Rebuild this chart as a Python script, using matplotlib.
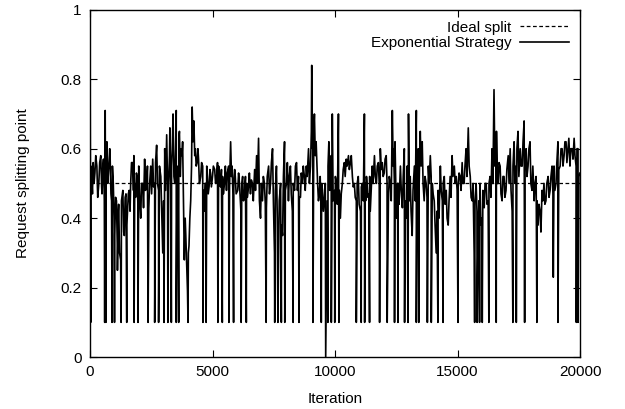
import matplotlib
matplotlib.use("Agg")
import matplotlib.pyplot as plt
import numpy as np

plt.rcParams['font.family'] = ['Liberation Sans', 'DejaVu Sans']

# Trace (iteration, splitting point)
base_iter = [0, 65, 130, 200, 280, 360, 440, 490, 550, 620, 690, 770, 820, 880, 950, 1010,
             1080, 1120, 1170, 1250, 1340, 1400, 1470, 1530, 1600, 1660, 1740, 1790, 1860,
             1920, 1990, 2070, 2150, 2230, 2310, 2400, 2480, 2560, 2640, 2720, 2800, 2890,
             2970, 3050, 3130, 3210, 3260, 3330, 3390, 3460, 3520, 3590, 3650, 3720, 3780,
             3850, 3910, 3980, 4040, 4110, 4170, 4240, 4300, 4370, 4430, 4520, 4600, 4660,
             4730, 4790, 4860, 4920, 5000, 5090, 5170, 5250, 5330, 5410, 5490, 5570, 5660,
             5740, 5800, 5870, 5930, 6030, 6100, 6160, 6230, 6310, 6390, 6470, 6550, 6630,
             6720, 6800, 6880, 6960, 7040, 7120, 7200, 7290, 7370, 7450, 7530, 7610, 7690,
             7780, 7860, 7940, 8020, 8100, 8180, 8260, 8350, 8430, 8510, 8590, 8670, 8750,
             8830, 8920, 9000, 9050, 9100, 9160, 9230, 9290, 9360, 9420, 9490, 9570, 9680,
             9750, 9810, 9890, 9980, 10060, 10140, 10220, 10300, 10380, 10460, 10550, 10630,
             10710, 10790, 10870, 10950, 11040, 11120, 11200, 11250, 11310, 11380, 11440,
             11520, 11610, 11690, 11770, 11850, 11930, 12010, 12090, 12180, 12260, 12340,
             12390, 12450, 12520, 12580, 12670, 12750, 12830, 12910, 13000, 13070, 13150,
             13240, 13320, 13400, 13480, 13560, 13640, 13720, 13810, 13890, 13970, 14050,
             14130, 14210, 14300, 14380, 14460, 14540, 14620, 14700, 14780, 14870, 14950,
             15030, 15110, 15190, 15270, 15350, 15440, 15520, 15600, 15680, 15760, 15840,
             15920, 16000, 16090, 16170, 16250, 16330, 16410, 16490, 16540, 16590, 16660,
             16740, 16820, 16900, 16980, 17070, 17150, 17230, 17310, 17390, 17470, 17560,
             17640, 17720, 17800, 17880, 17960, 18040, 18130, 18210, 18290, 18370, 18450,
             18530, 18610, 18700, 18780, 18860, 18910, 18940, 19020, 19100, 19190, 19270,
             19350, 19430, 19510, 19590, 19680, 19760, 19840, 19920, 20000]
base_val = [0.93, 0.52, 0.56, 0.53, 0.55, 0.50, 0.58, 0.47, 0.57, 0.71, 0.62, 0.55, 0.58, 0.45,
            0.50, 0.35, 0.45, 0.25, 0.44, 0.28, 0.48, 0.35, 0.47, 0.42, 0.48, 0.50, 0.56, 0.58,
            0.46, 0.52, 0.55, 0.40, 0.50, 0.57, 0.50, 0.43, 0.55, 0.57, 0.50, 0.61, 0.48, 0.52,
            0.30, 0.60, 0.64, 0.50, 0.66, 0.55, 0.70, 0.50, 0.71, 0.55, 0.65, 0.60, 0.62, 0.28,
            0.35, 0.19, 0.32, 0.45, 0.72, 0.68, 0.60, 0.56, 0.57, 0.52, 0.55, 0.42, 0.50, 0.52,
            0.49, 0.53, 0.52, 0.54, 0.52, 0.55, 0.49, 0.52, 0.50, 0.48, 0.55, 0.62, 0.55, 0.50,
            0.52, 0.48, 0.50, 0.42, 0.52, 0.47, 0.50, 0.49, 0.47, 0.50, 0.54, 0.58, 0.63, 0.40,
            0.45, 0.50, 0.43, 0.55, 0.50, 0.60, 0.30, 0.55, 0.25, 0.50, 0.35, 0.62, 0.50, 0.45,
            0.55, 0.42, 0.48, 0.56, 0.52, 0.46, 0.50, 0.52, 0.55, 0.60, 0.55, 0.84, 0.60, 0.70,
            0.62, 0.50, 0.47, 0.45, 0.48, 0.46, 0.45, 0.62, 0.50, 0.70, 0.48, 0.50, 0.70, 0.40,
            0.50, 0.56, 0.57, 0.58, 0.56, 0.52, 0.50, 0.45, 0.52, 0.42, 0.50, 0.70, 0.45, 0.50,
            0.47, 0.42, 0.55, 0.58, 0.50, 0.56, 0.60, 0.56, 0.53, 0.58, 0.45, 0.50, 0.71, 0.60,
            0.62, 0.40, 0.50, 0.55, 0.43, 0.60, 0.40, 0.70, 0.52, 0.35, 0.55, 0.71, 0.60, 0.65,
            0.62, 0.45, 0.50, 0.55, 0.58, 0.50, 0.45, 0.30, 0.48, 0.55, 0.45, 0.52, 0.48, 0.38,
            0.52, 0.58, 0.55, 0.52, 0.49, 0.52, 0.56, 0.50, 0.60, 0.66, 0.52, 0.45, 0.30, 0.50,
            0.35, 0.50, 0.40, 0.43, 0.50, 0.45, 0.52, 0.60, 0.77, 0.55, 0.65, 0.50, 0.55, 0.45,
            0.52, 0.48, 0.58, 0.60, 0.42, 0.62, 0.55, 0.65, 0.60, 0.55, 0.68, 0.60, 0.55, 0.62,
            0.48, 0.45, 0.52, 0.38, 0.42, 0.48, 0.50, 0.45, 0.52, 0.48, 0.55, 0.23, 0.55, 0.50,
            0.62, 0.55, 0.60, 0.58, 0.62, 0.60, 0.55, 0.60, 0.63, 0.55, 0.60, 0.53]

# Opposite-side values of the jitter band, read just after each base point
jitter_val = [0.55, 0.47, 0.50, 0.58, 0.46, 0.56, 0.49, 0.55, 0.45, 0.52, 0.50, 0.60, 0.47, 0.55,
              0.40, 0.46, 0.32, 0.42, 0.30, 0.45, 0.36, 0.46, 0.38, 0.47, 0.42, 0.56, 0.48, 0.50,
              0.53, 0.44, 0.46, 0.50, 0.43, 0.48, 0.55, 0.50, 0.47, 0.49, 0.56, 0.50, 0.55, 0.42,
              0.45, 0.48, 0.50, 0.58, 0.48, 0.62, 0.52, 0.60, 0.52, 0.63, 0.52, 0.58, 0.45, 0.40,
              0.27, 0.30, 0.40, 0.55, 0.62, 0.58, 0.55, 0.60, 0.50, 0.56, 0.48, 0.50, 0.55, 0.47,
              0.54, 0.49, 0.55, 0.50, 0.56, 0.50, 0.54, 0.47, 0.55, 0.53, 0.49, 0.52, 0.47, 0.54,
              0.47, 0.53, 0.45, 0.50, 0.45, 0.52, 0.46, 0.53, 0.51, 0.45, 0.48, 0.50, 0.45, 0.50,
              0.52, 0.44, 0.52, 0.47, 0.56, 0.45, 0.48, 0.40, 0.45, 0.38, 0.52, 0.48, 0.56, 0.52,
              0.47, 0.50, 0.55, 0.48, 0.46, 0.53, 0.55, 0.48, 0.52, 0.50, 0.65, 0.60, 0.66, 0.58,
              0.55, 0.45, 0.52, 0.50, 0.42, 0.50, 0.55, 0.48, 0.58, 0.45, 0.52, 0.44, 0.48, 0.47,
              0.54, 0.52, 0.55, 0.54, 0.58, 0.49, 0.46, 0.50, 0.44, 0.49, 0.45, 0.50, 0.52, 0.46,
              0.52, 0.48, 0.50, 0.52, 0.55, 0.50, 0.54, 0.52, 0.57, 0.50, 0.52, 0.45, 0.55, 0.50,
              0.48, 0.50, 0.44, 0.48, 0.52, 0.45, 0.55, 0.45, 0.42, 0.48, 0.45, 0.55, 0.50, 0.55,
              0.50, 0.52, 0.46, 0.50, 0.52, 0.47, 0.38, 0.42, 0.40, 0.48, 0.50, 0.44, 0.40, 0.45,
              0.46, 0.52, 0.50, 0.48, 0.53, 0.48, 0.50, 0.55, 0.52, 0.55, 0.46, 0.50, 0.45, 0.42,
              0.45, 0.38, 0.48, 0.50, 0.44, 0.50, 0.46, 0.50, 0.55, 0.62, 0.50, 0.56, 0.47, 0.52,
              0.46, 0.54, 0.50, 0.48, 0.55, 0.50, 0.60, 0.52, 0.55, 0.62, 0.56, 0.52, 0.60, 0.50,
              0.55, 0.50, 0.45, 0.44, 0.36, 0.45, 0.44, 0.50, 0.46, 0.52, 0.47, 0.50, 0.48, 0.56,
              0.54, 0.60, 0.55, 0.62, 0.56, 0.63, 0.60, 0.57, 0.58, 0.60, 0.52, 0.50]
jitter_shift = 35  # iterations after the base point

# Short drops of the splitting point (iteration, value)
dip_iter = [30, 600, 650, 900, 1000, 1270, 1500, 1800, 1960, 2370, 2640, 2800, 3020, 3180,
            3320, 3520, 3620, 4000, 4610, 4740, 5220, 5400, 5670, 5860, 6170, 6380, 7190,
            7540, 7670, 7810, 7950, 8290, 8530, 9100, 9440, 9620, 9710, 9850, 9990, 10160,
            10870, 11070, 11210, 11410, 11820, 12130, 12430, 12570, 12840, 12980, 13320,
            13420, 13770, 13930, 14200, 14410, 15020, 15700, 15800, 15900, 16010, 16280,
            16580, 17260, 17400, 17740, 18240, 19100, 19850, 19920]
dip_val = [0.1] * len(dip_iter)
dip_val[dip_iter.index(9620)] = 0.0

ideal_iter = [0, 20000]
ideal_val = [0.5, 0.5]

assert len(base_iter) == len(base_val) == len(jitter_val)

# merge trace
jit_iter = [i + jitter_shift for i in base_iter[:-1]]
it = np.array(base_iter + jit_iter + dip_iter, dtype=float)
vv = np.array(base_val + jitter_val[:-1] + dip_val, dtype=float)
order = np.argsort(it, kind="stable")
it, vv = it[order], vv[order]

fig = plt.figure(figsize=(6.25, 4.09), dpi=100)
ax = fig.add_axes([0.144, 0.127, 0.784, 0.849])

ax.plot(ideal_iter, ideal_val, color='black', lw=0.9, ls=(0, (3, 2)), label='Ideal split')
ax.plot(it, vv, color='black', lw=1.2, label='Exponential Strategy')

ax.set_xlim(0, 20000)
ax.set_ylim(0, 1)
ax.set_xticks([0, 5000, 10000, 15000, 20000])
ax.set_yticks([0, 0.2, 0.4, 0.6, 0.8, 1.0])
ax.set_yticklabels(['0', '0.2', '0.4', '0.6', '0.8', '1'])
ax.tick_params(direction='in', top=True, right=True, length=5, width=0.8, labelsize=11, pad=6)
for s in ax.spines.values():
    s.set_linewidth(1.0)

ax.set_xlabel('Iteration', fontsize=11, labelpad=9)
ax.set_ylabel('Request splitting point', fontsize=11, labelpad=22)

leg = ax.legend(loc='upper right', frameon=False, markerfirst=False, fontsize=11,
                handlelength=3.2, handletextpad=0.6, labelspacing=0.1,
                borderaxespad=0.3)
for t in leg.get_texts():
    t.set_ha('right')

fig.savefig('out.png', dpi=100)
